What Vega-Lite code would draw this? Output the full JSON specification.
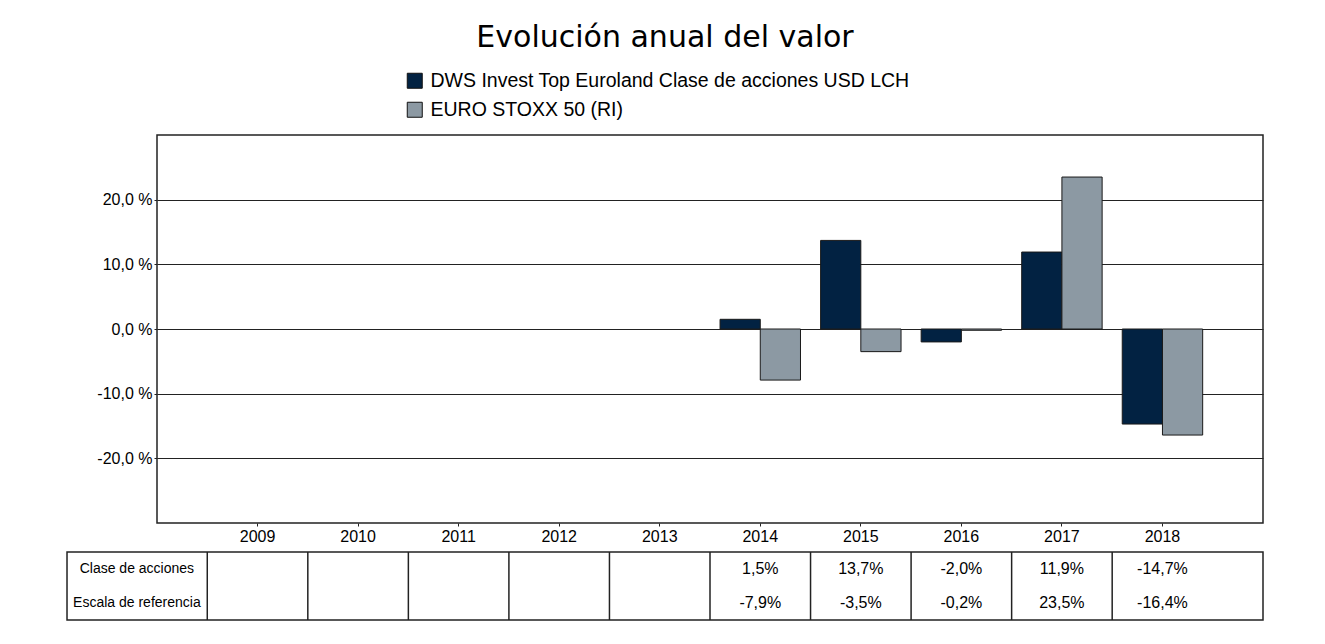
{
  "$schema": "https://vega.github.io/schema/vega-lite/v6.json",
  "padding": {"left": 66, "top": 23, "right": 20, "bottom": 10},
  "background": "white",
  "title": {"text": "Evolución anual del valor", "font": "DejaVu Sans", "fontSize": 30, "fontWeight": "normal", "color": "#000", "anchor": "middle", "offset": 18},
  "datasets": {
    "valores": [
      {"anio": 2014, "serie": "DWS Invest Top Euroland Clase de acciones USD LCH", "fila": "Clase de acciones", "valor": 1.5},
      {"anio": 2014, "serie": "EURO STOXX 50 (RI)", "fila": "Escala de referencia", "valor": -7.9},
      {"anio": 2015, "serie": "DWS Invest Top Euroland Clase de acciones USD LCH", "fila": "Clase de acciones", "valor": 13.7},
      {"anio": 2015, "serie": "EURO STOXX 50 (RI)", "fila": "Escala de referencia", "valor": -3.5},
      {"anio": 2016, "serie": "DWS Invest Top Euroland Clase de acciones USD LCH", "fila": "Clase de acciones", "valor": -2.0},
      {"anio": 2016, "serie": "EURO STOXX 50 (RI)", "fila": "Escala de referencia", "valor": -0.2},
      {"anio": 2017, "serie": "DWS Invest Top Euroland Clase de acciones USD LCH", "fila": "Clase de acciones", "valor": 11.9},
      {"anio": 2017, "serie": "EURO STOXX 50 (RI)", "fila": "Escala de referencia", "valor": 23.5},
      {"anio": 2018, "serie": "DWS Invest Top Euroland Clase de acciones USD LCH", "fila": "Clase de acciones", "valor": -14.7},
      {"anio": 2018, "serie": "EURO STOXX 50 (RI)", "fila": "Escala de referencia", "valor": -16.4}
    ],
    "anios": [
      {"anio": 2009}, {"anio": 2010}, {"anio": 2011}, {"anio": 2012}, {"anio": 2013},
      {"anio": 2014}, {"anio": 2015}, {"anio": 2016}, {"anio": 2017}, {"anio": 2018}
    ],
    "filas": [
      {"fila": "Clase de acciones"},
      {"fila": "Escala de referencia"}
    ]
  },
  "spacing": 6,
  "vconcat": [
    {
      "width": 1106,
      "height": 388,
      "data": {"name": "valores"},
      "mark": {"type": "bar", "stroke": "#1a1a1a", "strokeWidth": 1},
      "encoding": {
        "x": {
          "field": "anio", "type": "ordinal",
          "scale": {"domain": [2009, 2010, 2011, 2012, 2013, 2014, 2015, 2016, 2017, 2018], "paddingInner": 0, "paddingOuter": 0.5},
          "axis": {"title": null, "labelAngle": 0, "domain": false, "ticks": true, "tickSize": 3, "tickColor": "#222", "labelFontSize": 16, "labelFont": "Liberation Sans", "labelColor": "#000", "labelPadding": 2, "grid": false}
        },
        "xOffset": {
          "field": "serie", "type": "nominal",
          "scale": {"domain": ["DWS Invest Top Euroland Clase de acciones USD LCH", "EURO STOXX 50 (RI)"], "paddingInner": 0, "paddingOuter": 0.25}
        },
        "y": {
          "field": "valor", "type": "quantitative",
          "scale": {"domain": [-30, 30], "nice": false, "zero": false},
          "axis": {"title": null, "values": [-20, -10, 0, 10, 20], "labelExpr": "(datum.value < 0 ? '-' : '') + replace(format(abs(datum.value), '.1f'), '.', ',') + ' %'", "grid": true, "gridColor": "#222", "gridWidth": 1, "gridOpacity": 1, "domain": false, "tickSize": 3, "tickColor": "#222", "labelFontSize": 16, "labelFont": "Liberation Sans", "labelColor": "#000", "labelPadding": 2}
        },
        "color": {
          "field": "serie", "type": "nominal",
          "scale": {"domain": ["DWS Invest Top Euroland Clase de acciones USD LCH", "EURO STOXX 50 (RI)"], "range": ["#022242", "#8C99A3"]},
          "legend": {"title": null, "orient": "none", "legendX": 248, "legendY": -64, "direction": "vertical", "symbolType": "square", "symbolSize": 225, "symbolStrokeColor": "#111", "symbolStrokeWidth": 1, "labelFont": "Liberation Sans", "labelFontSize": 19.5, "labelColor": "#000", "labelOffset": 6, "rowPadding": 8, "labelLimit": 700}
        }
      }
    },
    {
      "width": 1106,
      "height": 68,
      "view": {"stroke": null},
      "layer": [
        {
          "data": {"values": [{}]},
          "mark": {"type": "rect", "fill": "white", "stroke": "#222", "strokeWidth": 1.5},
          "encoding": {
            "x": {"datum": 2007.105, "type": "quantitative", "scale": {"domain": [2008, 2019], "nice": false, "zero": false}, "axis": null},
            "x2": {"datum": 2019}
          }
        },
        {
          "data": {"name": "anios"},
          "transform": [{"calculate": "datum.anio - 0.5", "as": "borde"}],
          "mark": {"type": "rule", "stroke": "#222", "strokeWidth": 1.5},
          "encoding": {
            "x": {"field": "borde", "type": "quantitative", "scale": {"domain": [2008, 2019], "nice": false, "zero": false}, "axis": null}
          }
        },
        {
          "data": {"name": "valores"},
          "transform": [{"calculate": "(datum.valor < 0 ? '-' : '') + replace(format(abs(datum.valor), '.1f'), '.', ',') + '%'", "as": "etiqueta"}],
          "mark": {"type": "text", "font": "Liberation Sans", "fontSize": 16, "color": "#000"},
          "encoding": {
            "x": {"field": "anio", "type": "quantitative", "scale": {"domain": [2008, 2019], "nice": false, "zero": false}, "axis": null},
            "y": {"field": "fila", "type": "nominal", "scale": {"domain": ["Clase de acciones", "Escala de referencia"], "paddingInner": 0, "paddingOuter": 0}, "axis": null},
            "text": {"field": "etiqueta"}
          }
        },
        {
          "data": {"name": "filas"},
          "mark": {"type": "text", "font": "Liberation Sans", "fontSize": 14, "color": "#000"},
          "encoding": {
            "x": {"datum": 2007.8, "type": "quantitative", "scale": {"domain": [2008, 2019], "nice": false, "zero": false}, "axis": null},
            "y": {"field": "fila", "type": "nominal", "scale": {"domain": ["Clase de acciones", "Escala de referencia"], "paddingInner": 0, "paddingOuter": 0}, "axis": null},
            "text": {"field": "fila"}
          }
        }
      ]
    }
  ],
  "config": {
    "view": {"stroke": "#222", "strokeWidth": 1.5},
    "axis": {"labelFont": "Liberation Sans"},
    "legend": {"labelFont": "Liberation Sans"}
  }
}
